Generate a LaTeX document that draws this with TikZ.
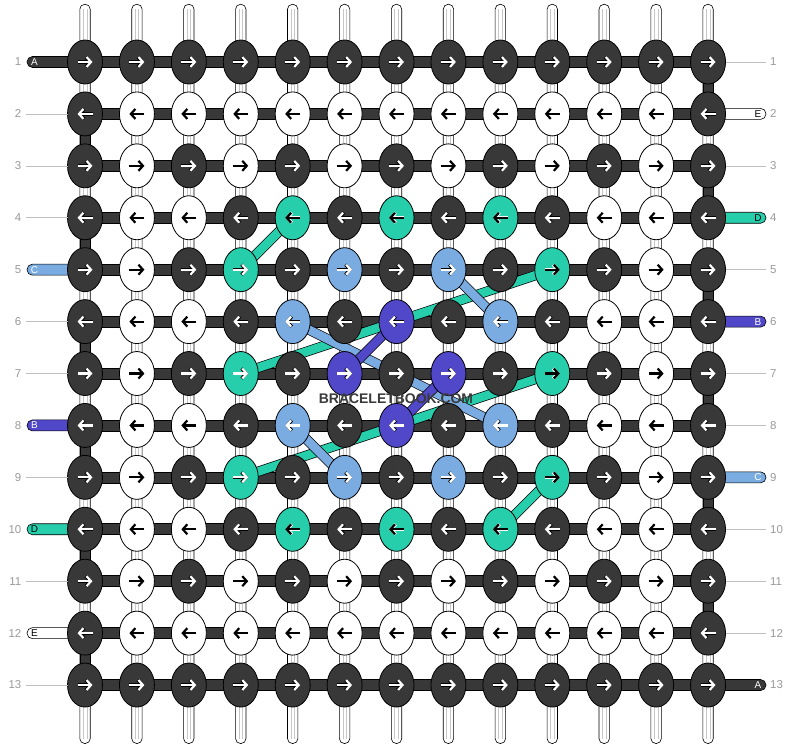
\documentclass[tikz,border=0pt]{standalone}
\usepackage{fontspec}
\setmainfont{Liberation Sans}
\usetikzlibrary{shapes.geometric,arrows.meta}
\definecolor{kD}{HTML}{383838}
\definecolor{kW}{HTML}{FFFFFF}
\definecolor{kT}{HTML}{27CEAB}
\colorlet{kS}{kT}
\definecolor{kL}{HTML}{7AACE2}
\definecolor{kP}{HTML}{5048C9}
\definecolor{wmc}{HTML}{3A3A3A}
\colorlet{aD}{white}\colorlet{aW}{black}\colorlet{aT}{black}\colorlet{aS}{white}\colorlet{aL}{white}\colorlet{aP}{white}
\colorlet{oD}{black}\colorlet{oW}{white}\colorlet{oT}{white}\colorlet{oS}{black}\colorlet{oL}{black}\colorlet{oP}{black}
\pgfdeclarelayer{back}\pgfdeclarelayer{mid}\pgfdeclarelayer{front}
\pgfsetlayers{back,mid,main,front}
\begin{document}
\begin{tikzpicture}[x=1bp,y=-1bp,
  knot/.style={ellipse, draw=black, line width=0.8bp, minimum width=35bp, minimum height=44bp, inner sep=0pt, outer sep=0pt},
  arrw/.style={line width=2.2bp, -{Straight Barb[length=4.5bp,width=10bp]}},
  arro/.style={line width=3.2bp, -{Straight Barb[length=4.5bp,width=10bp]}},
  warp/.style={fill=white, draw=black, line width=0.6bp, rounded corners=4.9bp},
  warpline/.style={draw=black!22, line width=0.5bp},
  edgeseg/.style={fill=kD, draw=black, line width=0.6bp},
  hbar/.style={fill=kD, draw=black, line width=0.6bp},
  pill/.style={draw=black, line width=0.6bp, rounded corners=5.4bp},
  diag/.style={draw=black, line width=0.7bp, double=#1, double distance=8.6bp},
  rownum/.style={text=black!40, font=\fontsize{11.5}{12}\selectfont, inner sep=0pt},
  guide/.style={draw=black!25, line width=0.6bp},
  lbl/.style={font=\fontsize{10}{10}\selectfont, inner sep=0pt},
  wm/.style={font=\bfseries\fontsize{14}{14}\selectfont, inner sep=0pt}
]
\useasboundingbox (0,0) rectangle (792,748);

% knots
\foreach \r/\row in {
 1/{D,D,D,D,D,D,D,D,D,D,D,D,D},
 2/{D,W,W,W,W,W,W,W,W,W,W,W,D},
 3/{D,W,D,W,D,W,D,W,D,W,D,W,D},
 4/{D,W,W,D,T,D,T,D,T,D,W,W,D},
 5/{D,W,D,S,D,L,D,L,D,T,D,W,D},
 6/{D,W,W,D,L,D,P,D,L,D,W,W,D},
 7/{D,W,D,S,D,P,D,P,D,T,D,W,D},
 8/{D,W,W,D,L,D,P,D,L,D,W,W,D},
 9/{D,W,D,S,D,L,D,L,D,T,D,W,D},
 10/{D,W,W,D,T,D,T,D,T,D,W,W,D},
 11/{D,W,D,W,D,W,D,W,D,W,D,W,D},
 12/{D,W,W,W,W,W,W,W,W,W,W,W,D},
 13/{D,D,D,D,D,D,D,D,D,D,D,D,D}}{
  \pgfmathsetmacro\axa{7.5-mod(\r,2)*15}
  \pgfmathsetmacro\axb{mod(\r,2)*15-7.5}
  \foreach \cl [count=\c] in \row {
    \node[knot, fill=k\cl] (k-\r-\c) at ({85+(\c-1)*51.92},{62+(\r-1)*51.92}) {};
    \draw[arro, color=o\cl] ([xshift=\axa bp]k-\r-\c.center) -- ([xshift=\axb bp]k-\r-\c.center);
    \draw[arrw, color=a\cl] ([xshift=\axa bp]k-\r-\c.center) -- ([xshift=\axb bp]k-\r-\c.center);
  }
}

% warp strands
\begin{pgfonlayer}{back}
\foreach \c in {1,...,13}{
  \pgfmathsetmacro\xx{85+(\c-1)*51.92}
  \draw[warp] ({\xx-5.2},4.3) rectangle ({\xx+5.2},743.5);
  \draw[warpline] ({\xx-1.8},9) -- ({\xx-1.8},739);
  \draw[warpline] ({\xx+1.8},9) -- ({\xx+1.8},739);
}
\end{pgfonlayer}

\begin{pgfonlayer}{mid}
% edge segments of the base strand
\foreach \r [evaluate=\r as \rn using int(\r+1)] in {2,4,6,8,10,12}{
  \draw[edgeseg] ([xshift=-5.2bp]k-\r-1.center) rectangle ([xshift=5.2bp]k-\rn-1.center);
}
\foreach \r [evaluate=\r as \rn using int(\r+1)] in {1,3,5,7,9,11}{
  \draw[edgeseg] ([xshift=-5.2bp]k-\r-13.center) rectangle ([xshift=5.2bp]k-\rn-13.center);
}
% horizontal bars
\foreach \r in {1,...,13}{
  \draw[hbar] ([yshift=5.5bp]k-\r-1.center) rectangle ([yshift=-5.5bp]k-\r-13.center);
}
% label pills
\foreach \r/\t/\f/\tc in {1/A/kD/white,5/C/kL/white,8/B/kP/white,10/D/kT/black,12/E/kW/black}{
  \pgfmathsetmacro\yy{62+(\r-1)*51.92}
  \draw[pill, fill=\f] (27,{\yy-5.5}) rectangle (85,{\yy+5.5});
  \node[lbl, text=\tc] (ll-\r) at (34.5,\yy) {\t};
}
\foreach \r/\t/\f/\tc in {2/E/kW/black,4/D/kT/black,6/B/kP/white,9/C/kL/white,13/A/kD/white}{
  \pgfmathsetmacro\yy{62+(\r-1)*51.92}
  \draw[pill, fill=\f] (708,{\yy-5.5}) rectangle (766,{\yy+5.5});
  \node[lbl, text=\tc] (rl-\r) at (758,\yy) {\t};
}
% diagonals
\draw[diag=kT] (k-4-5.center) -- (k-5-4.center);
\draw[diag=kT] (k-7-4.center) -- (k-5-10.center);
\draw[diag=kT] (k-9-4.center) -- (k-7-10.center);
\draw[diag=kT] (k-9-10.center) -- (k-10-9.center);
\draw[diag=kL] (k-5-8.center) -- (k-6-9.center);
\draw[diag=kL] (k-6-5.center) -- (k-8-9.center);
\draw[diag=kL] (k-8-5.center) -- (k-9-6.center);
\draw[diag=kP] (k-6-7.center) -- (k-7-6.center);
\draw[diag=kP] (k-7-8.center) -- (k-8-7.center);
\end{pgfonlayer}

% row numbers and guide lines
\foreach \r in {1,...,13}{
  \pgfmathsetmacro\yy{62+(\r-1)*51.92}
  \node[rownum, anchor=east] (nl-\r) at (21.5,\yy) {\r};
  \node[rownum, anchor=west] (nr-\r) at (770,\yy) {\r};
}
\foreach \r in {2,3,4,6,7,9,11,13}{
  \draw[guide] (nl-\r.east) ++(4.5,0) -- (k-\r-1.west);
}
\foreach \r in {1,3,5,7,8,10,11,12}{
  \draw[guide] (k-\r-13.east) -- ([xshift=-4bp]nr-\r.west);
}

% watermark
\begin{pgfonlayer}{front}
\node[wm, text=wmc] (wm) at (396,399) {BRACELETBOOK.COM};
\end{pgfonlayer}
\end{tikzpicture}
\end{document}
